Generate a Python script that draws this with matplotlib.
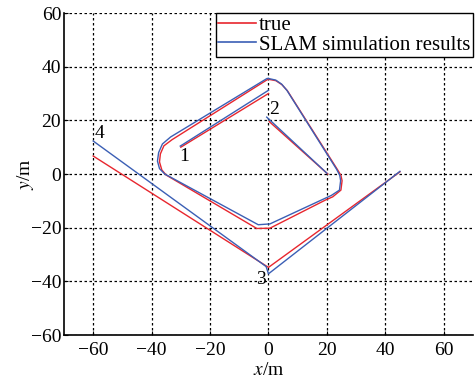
import matplotlib
matplotlib.use("Agg")
import matplotlib.pyplot as plt

plt.rcParams['font.family'] = ['Liberation Serif', 'DejaVu Serif']
plt.rcParams['mathtext.fontset'] = 'stix'

# true trajectory pieces
true_a_x = [-30, 0]
true_a_y = [10, 30]
true_b_x = [0.3, 20.3]
true_b_y = [19.5, 0]
true_loop_x = [0, 2.5, 4.6, 6.5, 23.7, 24.8, 25.2, 24.8, 22, 19.5, 0.5, -4, -35, -36.5, -37.3, -37, -35.8, -33, -0.5, 0]
true_loop_y = [35.3, 34.8, 33.3, 31, 1.5, -0.5, -2.5, -6, -8.5, -9.7, -20.2, -20.3, -0.4, 1.5, 4.5, 7.5, 10.5, 12.8, 35.1, 35.3]
true_v_x = [-60, 0, 45]
true_v_y = [6.7, -34.8, 0.8]

# SLAM estimate pieces
slam_a_x = [-30.2, 0]
slam_a_y = [10.4, 31.2]
slam_b_x = [-0.6, 20]
slam_b_y = [21.2, 0.3]
slam_loop_x = [0, 2.5, 4.5, 6.3, 23.3, 24.4, 24.7, 24.3, 21.5, 19.5, 0.5, -3.5, -35.5, -37.3, -38, -37.6, -36.3, -33.5, -0.5, 0]
slam_loop_y = [35.6, 35, 33.5, 31.2, 1.8, -0.5, -2.5, -6, -8, -9, -18.6, -18.9, 0, 2, 4.8, 8, 11.2, 13.8, 35.6, 35.6]
slam_v_x = [-60, -0.8, 0, 45]
slam_v_y = [12.3, -34.5, -37.2, 1]

# point labels
label_text = ["1", "2", "3", "4"]
label_x = [-28.7, 2, -2.5, -57.8]
label_y = [6.5, 23.9, -39.5, 15.2]

red = "#e8262e"
blue = "#3b5fb5"

fig = plt.figure(figsize=(4.75, 3.84), dpi=100)
ax = fig.add_axes([0.1347, 0.1276, 0.861, 0.8385])

for xs, ys in [(true_a_x, true_a_y), (true_b_x, true_b_y), (true_loop_x, true_loop_y), (true_v_x, true_v_y)]:
    ax.plot(xs, ys, color=red, lw=1.0, zorder=3)
for xs, ys in [(slam_a_x, slam_a_y), (slam_b_x, slam_b_y), (slam_loop_x, slam_loop_y), (slam_v_x, slam_v_y)]:
    ax.plot(xs, ys, color=blue, lw=1.0, zorder=4)

# legend handles
h_true, = ax.plot([], [], color=red, lw=1.2, label="true")
h_slam, = ax.plot([], [], color=blue, lw=1.2, label="SLAM simulation results")

for t, x, y in zip(label_text, label_x, label_y):
    ax.text(x, y, t, fontsize=14, ha="center", va="center", zorder=5)

ax.set_xlim(-70, 70)
ax.set_ylim(-60, 60)
ax.set_xticks([-60, -40, -20, 0, 20, 40, 60])
ax.set_yticks([-60, -40, -20, 0, 20, 40, 60])
ax.grid(True, color="black", linestyle=(0, (2, 2)), linewidth=0.9)
ax.tick_params(direction="in", length=3, labelsize=14)
ax.tick_params(axis="x", pad=5)
ax.tick_params(axis="y", pad=2)
for s in ["top", "right"]:
    ax.spines[s].set_visible(False)
for s in ["left", "bottom"]:
    ax.spines[s].set_linewidth(1.2)

ax.set_xlabel("$x$/m", fontsize=14)
ax.set_ylabel("$y$/m", fontsize=14)
ax.xaxis.set_label_coords(0.5, -0.109)
ax.yaxis.set_label_coords(-0.093, 0.5)
ax.xaxis.label.set_va("center")
ax.yaxis.label.set_va("center")

leg = ax.legend(handles=[h_true, h_slam], loc="upper right", fontsize=15, frameon=True,
                fancybox=False, edgecolor="black", framealpha=1, borderaxespad=0,
                handlelength=1.8, handletextpad=0.15, labelspacing=0.0, borderpad=0.12)
leg.get_frame().set_linewidth(1.0)

fig.savefig("out.png", dpi=100)
